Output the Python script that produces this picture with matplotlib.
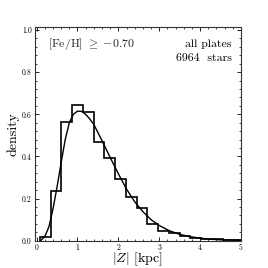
import numpy as np
import matplotlib
matplotlib.use('Agg')
import matplotlib.pyplot as plt
from matplotlib.ticker import MultipleLocator

plt.rcParams['font.family'] = 'serif'
plt.rcParams['font.serif'] = ['cmr10', 'DejaVu Serif']
plt.rcParams['mathtext.fontset'] = 'cm'
plt.rcParams['axes.unicode_minus'] = False

# histogram bin edges and heights (density)
bin_edges = [0.08, 0.343, 0.606, 0.869, 1.132, 1.395, 1.658, 1.921, 2.184, 2.447,
             2.71, 2.973, 3.236, 3.499, 3.762, 4.025, 4.288, 4.551, 4.814, 5.077]
heights = [0.019, 0.237, 0.563, 0.644, 0.613, 0.467, 0.392, 0.295, 0.207, 0.155,
           0.078, 0.047, 0.035, 0.021, 0.013, 0.009, 0.006, 0.003, 0.002]

# fitted model curve
curve_x = [0.10, 0.20, 0.30, 0.40, 0.50, 0.60, 0.70, 0.80, 0.90, 1.00, 1.10, 1.20,
           1.30, 1.40, 1.60, 1.80, 2.00, 2.20, 2.40, 2.60, 2.80, 3.00, 3.25, 3.50,
           3.75, 4.00, 4.25, 4.50, 4.75, 5.00]
curve_y = [0.000, 0.020, 0.065, 0.150, 0.255, 0.370, 0.480, 0.560, 0.600, 0.615,
           0.614, 0.600, 0.578, 0.552, 0.475, 0.395, 0.318, 0.245, 0.185, 0.138,
           0.100, 0.072, 0.047, 0.030, 0.019, 0.012, 0.007, 0.004, 0.003, 0.002]

fig = plt.figure(figsize=(2.68, 2.68), dpi=100)
ax = fig.add_axes([0.129, 0.102, 0.770, 0.796])

ax.stairs(heights, bin_edges, color='black', lw=1.2)
ax.plot(curve_x, curve_y, color='black', lw=1.0)

ax.set_xlim(-0.05, 5.0)
ax.set_ylim(0.0, 1.013)
ax.xaxis.set_major_locator(MultipleLocator(1))
ax.xaxis.set_minor_locator(MultipleLocator(0.2))
ax.yaxis.set_major_locator(MultipleLocator(0.2))
ax.yaxis.set_minor_locator(MultipleLocator(0.04))
ax.tick_params(which='both', direction='in', top=True, right=True, labelsize=5.5, pad=2)
ax.tick_params(which='major', length=3, width=0.6)
ax.tick_params(which='minor', length=1.6, width=0.5)
ax.yaxis.set_major_formatter(plt.FuncFormatter(lambda v, p: '%.1f' % v))
for s in ax.spines.values():
    s.set_linewidth(0.8)
    s.set_color('#333333')

ax.set_xlabel(r'$|Z|$ [kpc]', fontsize=10, labelpad=-1)
ax.set_ylabel('density', fontsize=10, labelpad=2)

ax.text(0.065, 0.92, r'[Fe/H] $\geq\ {-}0.70$', transform=ax.transAxes, fontsize=8.5,
        ha='left', va='center', color='#222222')
ax.text(0.955, 0.92, 'all plates', transform=ax.transAxes, fontsize=8.5,
        ha='right', va='center')
ax.text(0.955, 0.855, '6964  stars', transform=ax.transAxes, fontsize=8.5,
        ha='right', va='center')

fig.savefig('out.png', dpi=100)
